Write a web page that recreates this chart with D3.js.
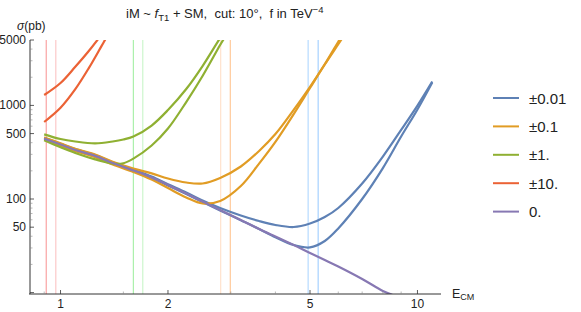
<!DOCTYPE html>
<html>
<head>
<meta charset="utf-8">
<script src="https://cdn.jsdelivr.net/npm/d3@7"></script>
<style>
  body { margin: 0; background: #fff; }
  text { font-family: "Liberation Sans", Arial, sans-serif; white-space: pre; }
</style>
</head>
<body>
<div id="chart"></div>
<script>
// Cross sections vs centre-of-mass energy (log-log)

// SM only
var eSM = [0.9, 1, 1.1, 1.25, 1.4, 1.6, 1.8, 2, 2.25, 2.5, 2.8, 3.2, 3.6, 4, 4.5, 5, 5.5, 6, 7, 8, 8.5];
var sigSM = [442, 382, 334, 289, 242, 202, 170, 141, 114.5, 94, 76.3, 59.7, 47.8, 39.7, 32.3, 26.5, 22.3, 19.0, 13.97, 10.4, 9.5];

// f = ±0.01
var eBlue = [0.9, 1, 1.1, 1.25, 1.4, 1.6, 1.8, 2, 2.25, 2.5, 2.8, 3.2, 3.6, 4, 4.5, 5, 5.5, 6, 7, 8, 9, 10, 11];
var blueUp = [451, 390, 341, 295, 247, 206, 173.5, 144, 117.5, 96.4, 80.2, 66.7, 58.2, 52.8, 50.2, 54.7, 64.2, 80.2, 146.4, 284, 547, 997, 1800];
var blueDn = [438, 378, 331, 286, 240, 200, 168, 139.5, 113, 93, 75.5, 59.3, 47.8, 39.0, 32.2, 30.4, 35.6, 48.5, 100, 214, 465, 906, 1760];

// f = ±0.1
var eOrange = [0.9, 1, 1.1, 1.25, 1.4, 1.6, 1.8, 2, 2.25, 2.5, 2.8, 3.2, 3.6, 4, 4.5, 5, 5.5, 6, 6.2];
var orangeUp = [455, 393, 344, 298, 250, 211.7, 188, 165.6, 150, 146.4, 167.6, 222.5, 326, 494, 897, 1582, 2754, 4794, 5906];
var orangeDn = [429, 370, 324, 280, 234, 195, 161.5, 131, 103.8, 89.5, 95.2, 137.6, 239, 408, 807, 1535, 2739, 4506, 5447];

// f = ±1
var eGreen = [0.9, 1, 1.1, 1.25, 1.4, 1.5, 1.6, 1.8, 2, 2.25, 2.5, 2.8, 2.9];
var greenUp = [491, 437.5, 411.6, 393.6, 411.6, 432, 465.3, 610, 893, 1497, 2636, 5250, 6391];
var greenDn = [423.8, 356.8, 310, 265, 239, 241, 270, 372.9, 566.5, 1087, 2061, 4418, 5515];

// f = ±10
var eRed = [0.9, 1, 1.1, 1.2, 1.3, 1.35];
var redUp = [1291, 1735, 2585, 3811, 5650, 6880];
var redDn = [665, 944, 1491, 2503, 4249, 5470];

// unitarity limits (vertical lines)
var limitE = [0.912, 0.97, 1.60, 1.70, 2.81, 2.99, 4.94, 5.27];
var limitColors = ["#f9a3a3", "#fcc9c9", "#aaf0aa", "#ccf6cc", "#ffe2cc", "#ffc999", "#b6dbff", "#a6d2ff"];

var legendLabels = ["\u00b10.01", "\u00b10.1", "\u00b11.", "\u00b110.", "0."];
var colors = ["#5e81b5", "#e19c24", "#8fb032", "#eb6235", "#8778b3"];

var yTickLabels = [50, 100, 500, 1000, 5000];
var xTickLabels = [1, 2, 5, 10];

var svgWidth = 581;
var svgHeight = 312;

var svg = d3.select("#chart")
  .append("svg")
  .attr("width", svgWidth)
  .attr("height", svgHeight);

// scales
var xScale = d3.scaleLog()
  .domain([0.816, 11.64])
  .range([29, 441]);

var yScale = d3.scaleLog()
  .domain([9.66, 5000])
  .range([294, 40]);

var plotTop = 40, plotBottom = 294, plotLeft = 29, plotRight = 441;

svg.append("clipPath")
  .attr("id", "plotclip")
  .append("rect")
  .attr("x", plotLeft)
  .attr("y", plotTop)
  .attr("width", plotRight - plotLeft)
  .attr("height", plotBottom - plotTop);

// vertical limit lines
svg.append("g")
  .selectAll("line")
  .data(limitE)
  .enter()
  .append("line")
  .attr("x1", d => xScale(d))
  .attr("x2", d => xScale(d))
  .attr("y1", plotTop)
  .attr("y2", plotBottom)
  .attr("stroke", (d, i) => limitColors[i])
  .attr("stroke-width", 1.2);

// curves
var line = d3.line()
  .x(d => xScale(d[0]))
  .y(d => yScale(d[1]))
  .curve(d3.curveCatmullRom.alpha(0.5));

var series = [
  { e: eBlue, s: blueUp, c: colors[0] },
  { e: eBlue, s: blueDn, c: colors[0] },
  { e: eOrange, s: orangeUp, c: colors[1] },
  { e: eOrange, s: orangeDn, c: colors[1] },
  { e: eGreen, s: greenUp, c: colors[2] },
  { e: eGreen, s: greenDn, c: colors[2] },
  { e: eRed, s: redUp, c: colors[3] },
  { e: eRed, s: redDn, c: colors[3] },
  { e: eSM, s: sigSM, c: colors[4] }
];

var curves = svg.append("g").attr("clip-path", "url(#plotclip)");
series.forEach(function(ser) {
  curves.append("path")
    .datum(ser.e.map((e, i) => [e, ser.s[i]]))
    .attr("d", line)
    .attr("fill", "none")
    .attr("stroke", ser.c)
    .attr("stroke-width", 2.2)
    .attr("stroke-linejoin", "round");
});

// axes
var axisColor = "#333";

// x axis
var xMinor = [0.9, 1.5, 3, 4, 6, 7, 8, 9];
var xAxis = svg.append("g");
xAxis.append("line")
  .attr("x1", plotLeft).attr("x2", plotRight)
  .attr("y1", plotBottom).attr("y2", plotBottom)
  .attr("stroke", axisColor).attr("stroke-width", 1);
xAxis.selectAll(".maj")
  .data(xTickLabels)
  .enter()
  .append("line")
  .attr("x1", d => xScale(d)).attr("x2", d => xScale(d))
  .attr("y1", plotBottom).attr("y2", plotBottom - 4)
  .attr("stroke", axisColor).attr("stroke-width", 0.8);
xAxis.selectAll(".min")
  .data(xMinor)
  .enter()
  .append("line")
  .attr("x1", d => xScale(d)).attr("x2", d => xScale(d))
  .attr("y1", plotBottom).attr("y2", plotBottom - 2.5)
  .attr("stroke", "#888").attr("stroke-width", 0.6);
xAxis.selectAll("text")
  .data(xTickLabels)
  .enter()
  .append("text")
  .attr("x", d => xScale(d))
  .attr("y", 308)
  .attr("text-anchor", "middle")
  .attr("font-size", "12px")
  .attr("fill", "#222")
  .text(d => d);

// y axis
var yMinor = [20, 30, 40, 60, 70, 80, 90, 200, 300, 400, 600, 700, 800, 900, 2000, 3000, 4000];
var yAxis = svg.append("g");
yAxis.append("line")
  .attr("x1", 30).attr("x2", 30)
  .attr("y1", plotTop).attr("y2", plotBottom)
  .attr("stroke", axisColor).attr("stroke-width", 1);
yAxis.selectAll(".maj")
  .data(yTickLabels.concat([10]))
  .enter()
  .append("line")
  .attr("x1", 30).attr("x2", 34)
  .attr("y1", d => yScale(d)).attr("y2", d => yScale(d))
  .attr("stroke", axisColor).attr("stroke-width", 0.8);
yAxis.selectAll(".min")
  .data(yMinor)
  .enter()
  .append("line")
  .attr("x1", 30).attr("x2", 32.5)
  .attr("y1", d => yScale(d)).attr("y2", d => yScale(d))
  .attr("stroke", "#888").attr("stroke-width", 0.6);
yAxis.selectAll("text")
  .data(yTickLabels)
  .enter()
  .append("text")
  .attr("x", 26)
  .attr("y", d => yScale(d) + 4)
  .attr("text-anchor", "end")
  .attr("font-size", "12px")
  .attr("fill", "#222")
  .text(d => d);

// axis labels
var yLab = svg.append("text")
  .attr("x", 17)
  .attr("y", 30)
  .attr("font-size", "12px")
  .attr("fill", "#222");
yLab.append("tspan").attr("font-style", "italic").text("\u03c3");
yLab.append("tspan").text("(pb)");

var xLab = svg.append("text")
  .attr("x", 452)
  .attr("y", 298)
  .attr("font-size", "12.5px")
  .attr("fill", "#222");
xLab.append("tspan").text("E");
xLab.append("tspan").attr("font-size", "9px").attr("dy", 2).text("CM");

// title
var title = svg.append("text")
  .attr("x", 126)
  .attr("y", 18)
  .attr("font-size", "13px")
  .attr("fill", "#222");
title.append("tspan").text("iM ~ ");
title.append("tspan").attr("font-style", "italic").text("f");
title.append("tspan").attr("font-size", "9.5px").attr("dy", 2.5).text("T1");
title.append("tspan").attr("dy", -2.5).text(" + SM,  cut: 10\u00b0,  f in TeV");
title.append("tspan").attr("font-size", "9.5px").attr("dy", -5).text("\u22124");

// legend
var legend = svg.append("g");
legendLabels.forEach(function(lab, i) {
  var ly = 98 + i * 28.4;
  legend.append("line")
    .attr("x1", 493).attr("x2", 519)
    .attr("y1", ly).attr("y2", ly)
    .attr("stroke", colors[i])
    .attr("stroke-width", 2);
  legend.append("text")
    .attr("x", 529)
    .attr("y", ly + 5.5)
    .attr("font-size", "15px")
    .attr("fill", "#222")
    .text(lab);
});
</script>
</body>
</html>
